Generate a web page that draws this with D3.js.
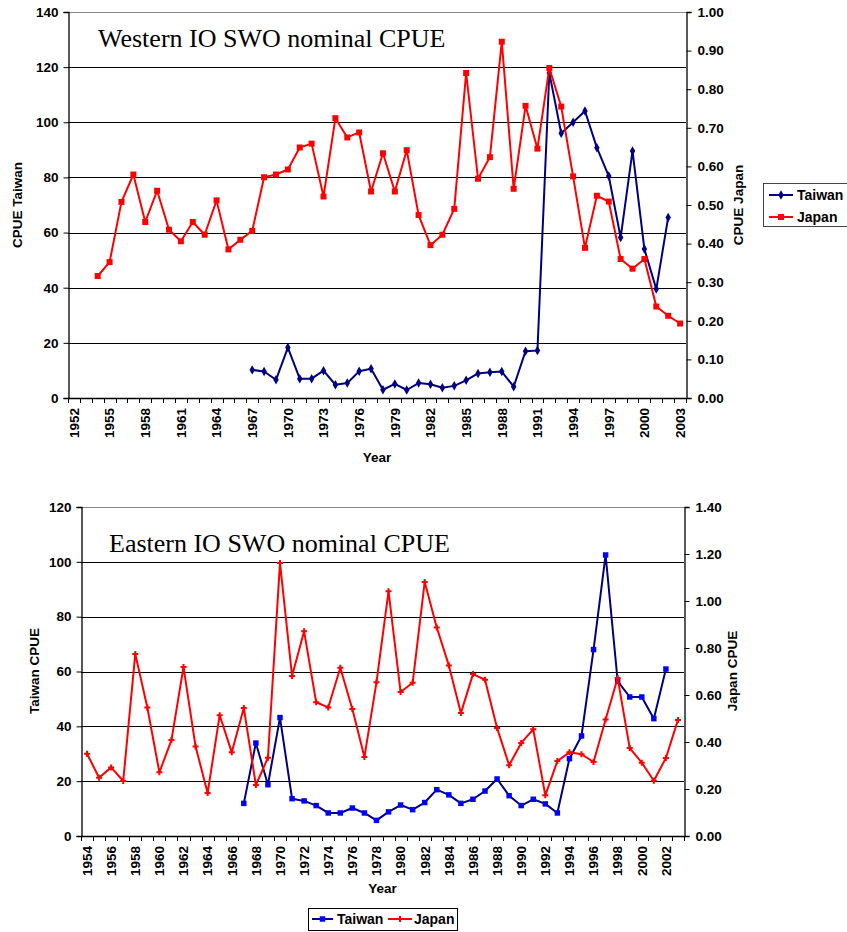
<!DOCTYPE html>
<html><head><meta charset="utf-8">
<script src="https://cdn.jsdelivr.net/npm/d3@7"></script>
<style>
html,body{margin:0;padding:0;background:#fff;}
svg{display:block;}
text{font-family:"Liberation Sans",Arial,sans-serif;font-weight:bold;fill:#000;}
.title{font-family:"Liberation Serif","Times New Roman",serif;font-weight:normal;}
</style>
</head><body>
<svg id="chart" width="847" height="932"></svg>
<script>
// ---------- Western IO data ----------
const westYears = [1952,1953,1954,1955,1956,1957,1958,1959,1960,1961,1962,1963,1964,1965,1966,1967,1968,1969,1970,1971,1972,1973,1974,1975,1976,1977,1978,1979,1980,1981,1982,1983,1984,1985,1986,1987,1988,1989,1990,1991,1992,1993,1994,1995,1996,1997,1998,1999,2000,2001,2002,2003];
const westTickLabels = ["1952","1955","1958","1961","1964","1967","1970","1973","1976","1979","1982","1985","1988","1991","1994","1997","2000","2003"];
const westTaiwanYears = [1967,1968,1969,1970,1971,1972,1973,1974,1975,1976,1977,1978,1979,1980,1981,1982,1983,1984,1985,1986,1987,1988,1989,1990,1991,1992,1993,1994,1995,1996,1997,1998,1999,2000,2001,2002];
const westTaiwan = [10.2,9.6,6.6,18.3,7.0,7.0,9.9,4.8,5.4,9.7,10.6,3.0,5.1,2.9,5.4,5.0,3.7,4.4,6.4,8.9,9.3,9.6,4.1,17.0,17.2,117.9,96.0,100.0,104.1,90.8,80.5,58.2,89.6,54.0,39.5,65.5];
const westJapanYears = [1954,1955,1956,1957,1958,1959,1960,1961,1962,1963,1964,1965,1966,1967,1968,1969,1970,1971,1972,1973,1974,1975,1976,1977,1978,1979,1980,1981,1982,1983,1984,1985,1986,1987,1988,1989,1990,1991,1992,1993,1994,1995,1996,1997,1998,1999,2000,2001,2002,2003];
const westJapan = [0.316,0.352,0.508,0.579,0.456,0.537,0.436,0.406,0.456,0.423,0.512,0.385,0.410,0.433,0.572,0.579,0.592,0.649,0.659,0.522,0.725,0.675,0.688,0.535,0.634,0.535,0.642,0.474,0.396,0.423,0.490,0.842,0.568,0.624,0.923,0.542,0.757,0.646,0.855,0.755,0.574,0.389,0.524,0.509,0.360,0.335,0.360,0.237,0.213,0.193];
const westLeftTicks = [0,20,40,60,80,100,120,140];
const westRightTicks = [0,0.1,0.2,0.3,0.4,0.5,0.6,0.7,0.8,0.9,1.0];

// ---------- Eastern IO data ----------
const eastYears = [1954,1955,1956,1957,1958,1959,1960,1961,1962,1963,1964,1965,1966,1967,1968,1969,1970,1971,1972,1973,1974,1975,1976,1977,1978,1979,1980,1981,1982,1983,1984,1985,1986,1987,1988,1989,1990,1991,1992,1993,1994,1995,1996,1997,1998,1999,2000,2001,2002,2003];
const eastTickLabels = ["1954","1956","1958","1960","1962","1964","1966","1968","1970","1972","1974","1976","1978","1980","1982","1984","1986","1988","1990","1992","1994","1996","1998","2000","2002"];
const eastTaiwanYears = [1967,1968,1969,1970,1971,1972,1973,1974,1975,1976,1977,1978,1979,1980,1981,1982,1983,1984,1985,1986,1987,1988,1989,1990,1991,1992,1993,1994,1995,1996,1997,1998,1999,2000,2001,2002];
const eastTaiwan = [11.9,33.9,18.7,43.2,13.6,12.8,11.1,8.4,8.4,10.2,8.4,5.7,8.8,11.3,9.6,12.2,16.9,15.0,11.9,13.4,16.4,20.8,14.7,11.1,13.4,11.7,8.4,28.2,36.5,68.0,102.5,56.5,50.7,50.7,42.8,60.9];
const eastJapanYears = eastYears;
const eastJapan = [0.350,0.248,0.292,0.234,0.775,0.547,0.271,0.408,0.719,0.381,0.183,0.514,0.356,0.545,0.217,0.333,1.162,0.681,0.871,0.569,0.547,0.716,0.540,0.336,0.654,1.041,0.613,0.652,1.081,0.887,0.726,0.523,0.689,0.665,0.460,0.301,0.396,0.454,0.173,0.319,0.356,0.348,0.315,0.496,0.672,0.374,0.312,0.235,0.332,0.494];
const eastLeftTicks = [0,20,40,60,80,100,120];
const eastRightTicks = [0,0.2,0.4,0.6,0.8,1.0,1.2,1.4];

const svg = d3.select("#chart");
const NAVY = "#000080", RED = "#ff0000", BLUE = "#0000ff";
const FS = "13.5px";

function panel(cfg) {
  const g = svg.append("g");
  const x = d3.scaleBand().domain(cfg.years).range([cfg.left, cfg.right]).padding(0);
  const yL = d3.scaleLinear().domain(cfg.lDomain).range([cfg.bottom, cfg.top]);
  const yR = d3.scaleLinear().domain(cfg.rDomain).range([cfg.bottom, cfg.top]);
  const cx = d => x(d) + x.bandwidth() / 2;

  // gridlines
  g.append("g").selectAll("line").data(cfg.lTicks.filter(t => t > 0)).join("line")
    .attr("x1", cfg.left).attr("x2", cfg.right)
    .attr("y1", d => Math.round(yL(d)) + 0.5).attr("y2", d => Math.round(yL(d)) + 0.5)
    .attr("stroke", d => d === cfg.lDomain[1] ? "#888" : "#000").attr("stroke-width", 1);

  // left axis
  const la = d3.axisLeft(yL).tickValues(cfg.lTicks).tickFormat(d3.format("d")).tickSize(5).tickPadding(5);
  const lg = g.append("g").attr("transform", `translate(${Math.round(cfg.left) + 0.5},0)`).call(la);
  // right axis
  const ra = d3.axisRight(yR).tickValues(cfg.rTicks).tickFormat(d3.format(".2f")).tickSize(5).tickPadding(6);
  const rg = g.append("g").attr("transform", `translate(${Math.round(cfg.right) + 0.5},0)`).call(ra);
  [lg, rg].forEach(a => {
    a.select(".domain").attr("stroke", "#000").attr("stroke-width", 1.3);
    a.selectAll(".tick line").attr("stroke", "#000");
    a.selectAll("text").style("font-size", FS).style("font-family", "'Liberation Sans',Arial,sans-serif").style("font-weight", "bold").attr("fill", "#000");
  });

  // x axis (category axis with ticks between categories)
  const xa = g.append("g");
  xa.append("line").attr("x1", cfg.left).attr("x2", cfg.right)
    .attr("y1", Math.round(cfg.bottom) + 0.5).attr("y2", Math.round(cfg.bottom) + 0.5)
    .attr("stroke", "#000").attr("stroke-width", 1.3);
  const bounds = cfg.years.map(d => x(d)).concat([x(cfg.years[cfg.years.length - 1]) + x.bandwidth()]);
  xa.selectAll("line.tk").data(bounds).join("line").attr("class", "tk")
    .attr("x1", d => Math.round(d) + 0.5).attr("x2", d => Math.round(d) + 0.5)
    .attr("y1", cfg.bottom).attr("y2", cfg.bottom + 5).attr("stroke", "#000");
  xa.selectAll("text").data(cfg.tickLabels).join("text")
    .attr("transform", d => `translate(${cx(+d) + 4.8},${cfg.bottom + 10}) rotate(-90)`)
    .attr("text-anchor", "end").style("font-size", FS).text(d => d);

  // axis titles
  g.append("text").attr("x", (cfg.left + cfg.right) / 2).attr("y", cfg.yearY)
    .attr("text-anchor", "middle").style("font-size", FS).text("Year");
  g.append("text").attr("transform", `translate(${cfg.lTitleX},${cfg.titleCY}) rotate(-90)`)
    .attr("text-anchor", "middle").style("font-size", FS).text(cfg.lTitle);
  g.append("text").attr("transform", `translate(${cfg.rTitleX},${cfg.titleCY}) rotate(-90)`)
    .attr("text-anchor", "middle").style("font-size", FS).text(cfg.rTitle);

  // chart title
  g.append("text").attr("class", "title").attr("x", cfg.titleX).attr("y", cfg.titleY)
    .style("font-size", "26px").text(cfg.title);

  // series
  cfg.series.forEach(s => {
    const pts = s.years.map((yr, i) => ({ yr, v: s.values[i] }));
    const sc = s.axis === "L" ? yL : yR;
    const line = d3.line().x(d => cx(d.yr)).y(d => sc(d.v));
    g.append("path").datum(pts).attr("d", line).attr("fill", "none")
      .attr("stroke", s.lineColor).attr("stroke-width", 2).attr("stroke-linejoin", "round");
    g.append("g").selectAll("path").data(pts).join("path")
      .attr("transform", d => `translate(${cx(d.yr)},${sc(d.v)})`)
      .attr("d", d3.symbol().type(s.symbol).size(s.symbolSize)())
      .attr("fill", s.markerColor);
  });
}

panel({
  years: westYears, tickLabels: westTickLabels,
  left: 68, right: 686, top: 12, bottom: 398,
  lDomain: [0, 140], rDomain: [0, 1], lTicks: westLeftTicks, rTicks: westRightTicks,
  yearY: 462, lTitle: "CPUE Taiwan", rTitle: "CPUE Japan", lTitleX: 22, rTitleX: 743, titleCY: 205,
  title: "Western IO SWO nominal CPUE", titleX: 98, titleY: 47,
  series: [
    { years: westTaiwanYears, values: westTaiwan, axis: "L", lineColor: NAVY, markerColor: NAVY, symbol: d3.symbolDiamond, symbolSize: 26 },
    { years: westJapanYears, values: westJapan, axis: "R", lineColor: RED, markerColor: RED, symbol: d3.symbolSquare, symbolSize: 36 }
  ]
});

panel({
  years: eastYears, tickLabels: eastTickLabels,
  left: 81, right: 684, top: 507, bottom: 836,
  lDomain: [0, 120], rDomain: [0, 1.4], lTicks: eastLeftTicks, rTicks: eastRightTicks,
  yearY: 893, lTitle: "Taiwan CPUE", rTitle: "Japan CPUE", lTitleX: 39, rTitleX: 737, titleCY: 671,
  title: "Eastern IO SWO nominal CPUE", titleX: 109, titleY: 552,
  series: [
    { years: eastTaiwanYears, values: eastTaiwan, axis: "L", lineColor: NAVY, markerColor: BLUE, symbol: d3.symbolSquare, symbolSize: 30 },
    { years: eastJapanYears, values: eastJapan, axis: "R", lineColor: RED, markerColor: RED, symbol: d3.symbolCross, symbolSize: 20 }
  ]
});

// ---------- legends ----------
function legendItem(g, x1, x2, y, color, mColor, symbol, size, label, tx) {
  g.append("line").attr("x1", x1).attr("x2", x2).attr("y1", y).attr("y2", y).attr("stroke", color).attr("stroke-width", 2);
  g.append("path").attr("transform", `translate(${(x1 + x2) / 2},${y})`).attr("d", d3.symbol().type(symbol).size(size)()).attr("fill", mColor);
  g.append("text").attr("x", tx).attr("y", y + 5).style("font-size", "14px").text(label);
}
const lg1 = svg.append("g");
lg1.append("rect").attr("x", 763.5).attr("y", 183.5).attr("width", 90).attr("height", 43).attr("fill", "#fff").attr("stroke", "#444");
legendItem(lg1, 769, 793, 195, NAVY, NAVY, d3.symbolDiamond, 26, "Taiwan", 797);
legendItem(lg1, 769, 793, 217, RED, RED, d3.symbolSquare, 36, "Japan", 797);

const lg2 = svg.append("g");
lg2.append("rect").attr("x", 308.5).attr("y", 908.5).attr("width", 149).attr("height", 22).attr("fill", "#fff").attr("stroke", "#000");
legendItem(lg2, 312, 333, 919, NAVY, BLUE, d3.symbolSquare, 30, "Taiwan", 337);
legendItem(lg2, 388, 412, 919, RED, RED, d3.symbolCross, 20, "Japan", 414);
</script>
</body></html>
